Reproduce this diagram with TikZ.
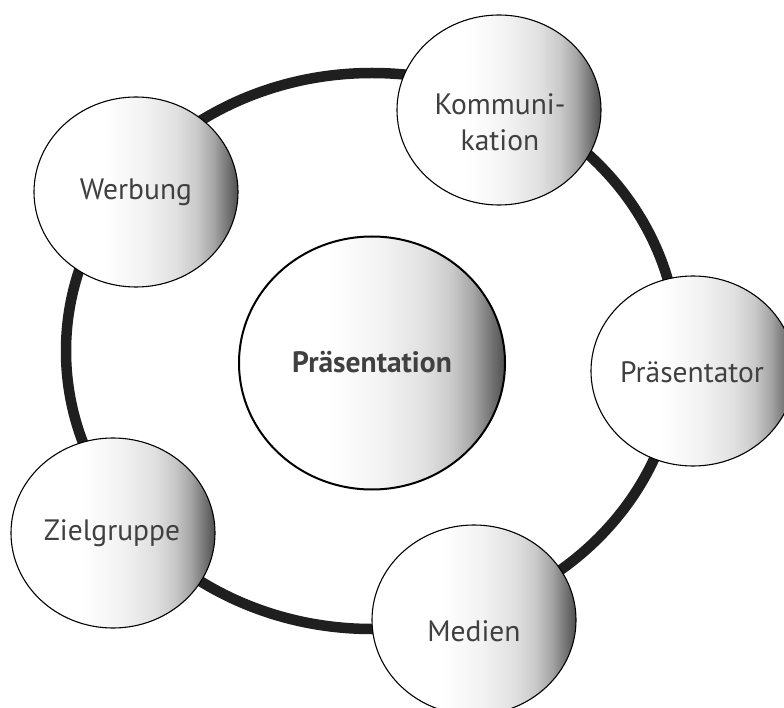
\documentclass[tikz,border=0pt]{standalone}
\usepackage{fontspec}
\setmainfont{PT Sans}
\usetikzlibrary{shapes.geometric}
\definecolor{txtgray}{HTML}{404041}
\pgfdeclarehorizontalshading{satshade}{100bp}{color(0bp)=(white); color(25bp)=(white); color(42bp)=(white); color(52bp)=(white!95!black); color(60bp)=(white!88!black); color(65bp)=(white!79!black); color(69bp)=(white!65!black); color(72bp)=(white!48!black); color(75bp)=(white!31!black); color(100bp)=(white!31!black)}
\tikzset{
  ring/.style={line width=10.5pt, draw=black!88},
  bubble/.style={ellipse, draw=black, line width=1.1pt, shading=satshade, minimum width=204pt, minimum height=190pt, inner sep=0pt},
  hub/.style={ellipse, draw=black, line width=2pt, shading=satshade, minimum width=266pt, minimum height=253pt, inner sep=0pt},
  lbl/.style={text=txtgray, align=center, font=\fontsize{29.5}{35.5}\selectfont, inner sep=0pt},
  hublbl/.style={lbl, font=\fontsize{29.5}{35.5}\selectfont\bfseries}
}
\begin{document}
\begin{tikzpicture}[x=1pt,y=-1pt]
\useasboundingbox (0,0) rectangle (784,708);
\clip (0,0) rectangle (784,708);
\fill[white] (0,0) rectangle (784,708);
\coordinate (rc) at (372,351);
\draw[ring] (rc) ellipse [x radius=306pt, y radius=278pt];
\node[hub] (hub) at (372,363) {};
\node[hublbl] (hubt) at (372,362) {Präsentation};
\node[bubble] (kom) at (499,110) {};
\node[lbl] (komt) at (500,122) {Kommuni-\\kation};
\node[bubble] (wer) at (136,192) {};
\node[lbl] (wert) at (136,192) {Werbung};
\node[bubble] (pra) at (693,371) {};
\node[lbl] (prat) at (692,372) {Präsentator};
\node[bubble] (ziel) at (113,533) {};
\node[lbl] (zielt) at (112,533) {Zielgruppe};
\node[bubble] (med) at (474,620) {};
\node[lbl] (medt) at (474,631) {Medien};
\end{tikzpicture}
\end{document}
